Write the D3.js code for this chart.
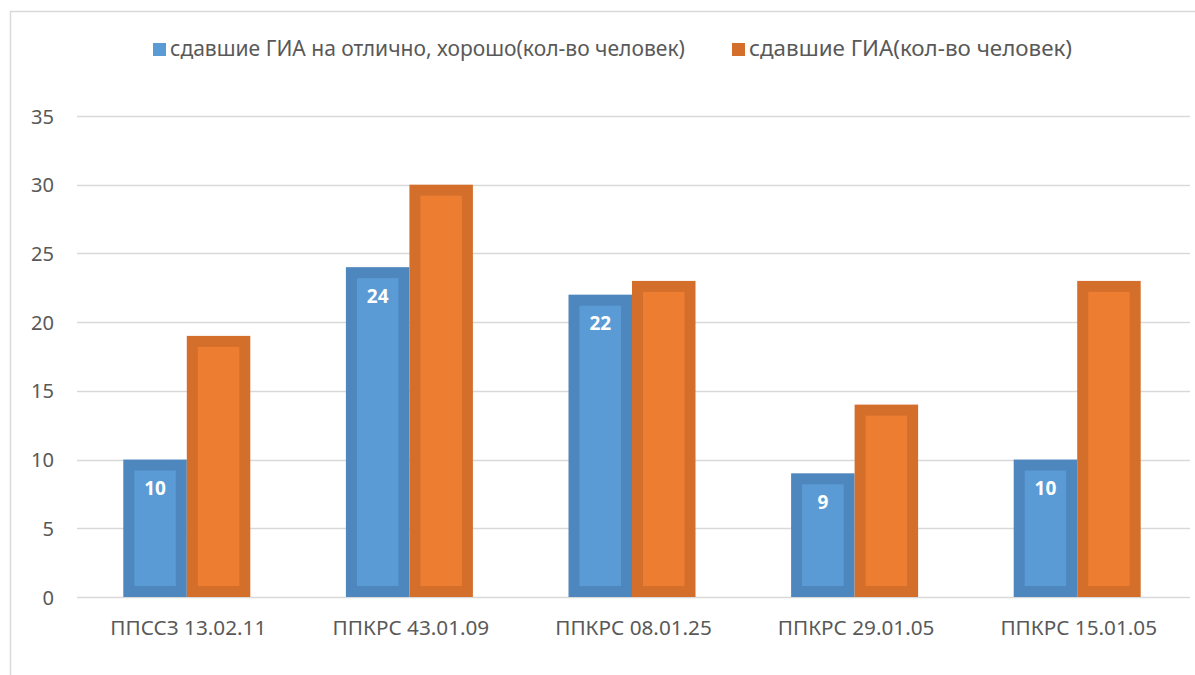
<!DOCTYPE html>
<html><head><meta charset="utf-8">
<script src="https://cdn.jsdelivr.net/npm/d3@7"></script>
<style>html,body{margin:0;padding:0;background:#fff;}svg{display:block;} text{font-family:"Noto Sans","Open Sans","DejaVu Sans",sans-serif;}</style>
</head><body><svg id="c" width="1195" height="675"></svg>
<script>
const categories = ["ППССЗ 13.02.11", "ППКРС 43.01.09", "ППКРС 08.01.25", "ППКРС 29.01.05", "ППКРС 15.01.05"];
const seriesNames = ["сдавшие ГИА на отлично, хорошо(кол-во человек)", "сдавшие ГИА(кол-во человек)"];
const excellentGood = [10, 24, 22, 9, 10];
const passed = [19, 30, 23, 14, 23];
const yTicks = [0, 5, 10, 15, 20, 25, 30, 35];

const fills = ["#5B9BD5", "#ED7D31"];
const strokes = ["#4E86BE", "#D46F2B"];
const svg = d3.select("#c");

function fit(sel, target, base) {
  // scale font size so the text width matches the reference width
  const n = sel.node();
  const w = n.getComputedTextLength();
  if (w > 0) sel.style("font-size", (base * target / w).toFixed(2) + "px");
}

// chart frame
svg.append("path").attr("d", "M10.5,675 V11.5 H1195").attr("fill", "none").attr("stroke", "#D9D9D9").attr("stroke-width", 1.5);

const x0 = d3.scaleBand().domain(categories).range([77, 1190]).paddingInner(0).paddingOuter(0);
const y = d3.scaleLinear().domain([0, 35]).range([597, 116]);

// grid
svg.append("g").selectAll("line").data(yTicks).join("line")
  .attr("x1", 77).attr("x2", 1190)
  .attr("y1", d => Math.round(y(d)) + 0.5).attr("y2", d => Math.round(y(d)) + 0.5)
  .attr("stroke", "#D9D9D9").attr("stroke-width", 1.3);

// y axis labels
const yAxis = d3.axisLeft(y).tickValues(yTicks).tickSize(0).tickPadding(0);
const ga = svg.append("g").attr("transform", "translate(54,0)").call(yAxis).attr("font-family", null);
ga.select(".domain").remove();
ga.selectAll("text").attr("fill", "#595959").style("font-size", "18px").attr("dy", "0.35em");
fit(ga.select("text"), 11.5, 18);
const ys = ga.select("text").style("font-size");
ga.selectAll("text").style("font-size", ys);

// x axis labels
const xAxis = d3.axisBottom(x0).tickSize(0).tickPadding(0);
const gx = svg.append("g").attr("transform", "translate(0,620)").call(xAxis).attr("font-family", null);
gx.select(".domain").remove();
gx.selectAll("text").attr("fill", "#595959").style("font-size", "17.5px").attr("dy", "0.71em");
fit(gx.select("text"), 156, 17.5);
const xs = gx.select("text").style("font-size");
gx.selectAll("text").style("font-size", xs);

const barW = 63.5;
const series = [excellentGood, passed];
const sw = 11;
series.forEach((vals, si) => {
  const g = svg.append("g");
  vals.forEach((v, i) => {
    const cx = x0(categories[i]) + x0.bandwidth() / 2 - 1.5;
    const xl = cx - barW + si * barW;
    const yt = y(v), yb = y(0);
    g.append("rect").attr("x", xl).attr("y", yt).attr("width", barW).attr("height", yb - yt).attr("fill", strokes[si]);
    g.append("rect").attr("x", xl + sw).attr("y", yt + sw).attr("width", barW - 2 * sw).attr("height", Math.max(0, yb - yt - 2 * sw)).attr("fill", fills[si]);
    if (si === 0) {
      g.append("text").attr("x", xl + barW / 2).attr("y", yt + 29).attr("text-anchor", "middle").attr("dy", "0.35em")
        .attr("fill", "#fff").style("font-weight", "bold").style("font-size", "19px").text(v);
    }
  });
});

// legend
const leg = [{x: 153, name: seriesNames[0], c: fills[0], w: 515}, {x: 732, name: seriesNames[1], c: strokes[1], w: 323}];
leg.forEach(l => {
  svg.append("rect").attr("x", l.x).attr("y", 43).attr("width", 13).attr("height", 13).attr("fill", l.c);
  const t = svg.append("text").attr("x", l.x + 17).attr("y", 56).attr("fill", "#595959").style("font-size", "18.5px").text(l.name);
  fit(t, l.w, 18.5);
});
</script></body></html>
